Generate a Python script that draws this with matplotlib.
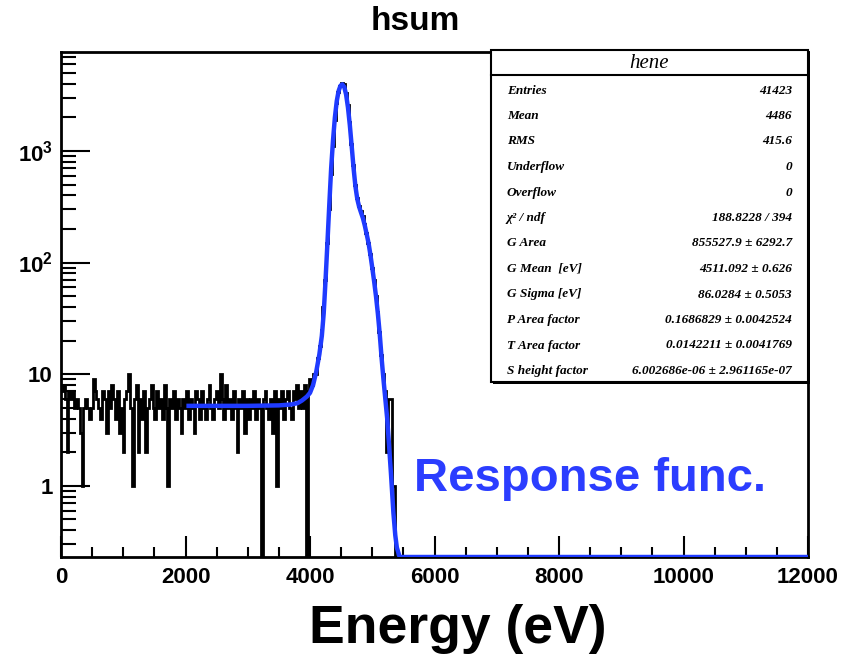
import numpy as np
import matplotlib
matplotlib.use("Agg")
import matplotlib.pyplot as plt
from matplotlib.patches import Rectangle
from matplotlib.ticker import FixedLocator, NullFormatter

plt.rcParams['font.family'] = 'Liberation Sans'
plt.rcParams['font.weight'] = 'bold'
plt.rcParams['mathtext.fontset'] = 'custom'
plt.rcParams['mathtext.rm'] = 'Liberation Sans:bold'
plt.rcParams['mathtext.bf'] = 'Liberation Sans:bold'

# [1] histogram: 30 eV bins, 0 - 12000 eV (counts, bins 0..178)
bin_width = 30
n_bins = 400
counts_low = [
    7, 8, 6, 2, 7, 6, 7, 5, 6, 5,
    3, 1, 5, 6, 5, 4, 5, 9, 7, 6,
    5, 4, 7, 6, 3, 7, 5, 8, 6, 4,
    7, 3, 5, 2, 6, 7, 10, 5, 1, 6,
    8, 2, 6, 4, 7, 2, 5, 6, 8, 5,
    4, 7, 5, 6, 4, 8, 5, 1, 6, 5,
    7, 4, 6, 5, 3, 6, 5, 7, 4, 6,
    5, 3, 7, 6, 4, 7, 5, 4, 6, 8,
    5, 4, 6, 7, 5, 10, 6, 4, 8, 5,
    6, 4, 7, 5, 2, 6, 5, 7, 3, 6,
    4, 6, 5, 7, 4, 6, 5, 0, 6, 7,
    5, 4, 6, 3, 7, 1, 6, 5, 7, 4,
    6, 7, 5, 4, 7, 6, 8, 5, 7, 5,
    8, 0, 7, 9, 8, 10, 10, 14, 18, 25,
    40, 70, 150, 300, 620, 1100, 1900, 2700, 3400, 3850,
    4050, 3950, 3300, 2600, 1800, 1150, 750, 500, 380, 320,
    290, 260, 220, 185, 150, 120, 90, 70, 50, 36,
    24, 15, 10, 7, 2, 6, 6, 1, 1,
]

# [2] fit curve (response function)
fit_e = [2050, 2500, 3000, 3500, 3700, 3800, 3870, 3950, 4000, 4050,
         4100, 4150, 4190, 4220, 4250, 4280, 4310, 4340, 4370, 4400,
         4430, 4460, 4490, 4520, 4550, 4580, 4610, 4640, 4670, 4700,
         4730, 4760, 4790, 4820, 4850, 4880, 4910, 4940, 4970, 5000,
         5030, 5060, 5090, 5120, 5150, 5180, 5210, 5240, 5270, 5300,
         5340, 5370, 5395, 5440, 12000]
fit_y = [5.2, 5.2, 5.2, 5.25, 5.35, 5.5, 5.8, 6.3, 6.8, 8,
         10.5, 15, 22, 35, 70, 150, 330, 700, 1250, 2000,
         2800, 3450, 3850, 3950, 3750, 3200, 2450, 1700, 1100, 700,
         480, 370, 315, 280, 250, 215, 180, 150, 118, 90,
         68, 50, 35, 23, 14, 9, 6, 4, 2.3, 1.3,
         0.57, 0.36, 0.28, 0.2, 0.2]

stats_labels = ["Entries", "Mean", "RMS", "Underflow", "Overflow", "\u03c7\u00b2 / ndf",
                "G Area", "G Mean  [eV]", "G Sigma [eV]", "P Area factor",
                "T Area factor", "S height factor"]
stats_values = ["41423", "4486", "415.6", "0", "0", "188.8228 / 394",
                "855527.9 \u00b1 6292.7", "4511.092 \u00b1 0.626", "86.0284 \u00b1 0.5053",
                "0.1686829 \u00b1 0.0042524", "0.0142211 \u00b1 0.0041769",
                "6.002686e-06 \u00b1 2.961165e-07"]

y_min, y_max = 0.23, 7700
x_min, x_max = 0, 12000

counts = np.zeros(n_bins)
counts[:len(counts_low)] = counts_low
edges = np.arange(n_bins + 1) * bin_width

W, H = 844, 658
fig = plt.figure(figsize=(W / 100, H / 100), dpi=100)
ax = fig.add_axes([61 / W, 1 - 557 / H, 747 / W, 505 / H])

ax.stairs(np.clip(counts, y_min, None), edges, color='black', lw=2.0, baseline=None, zorder=2)
ax.plot(fit_e, np.clip(fit_y, y_min, None), color='#1f3bff', lw=3.2, zorder=3,
        solid_joinstyle='round')

ax.set_yscale('log')
ax.set_xlim(x_min, x_max)
ax.set_ylim(y_min, y_max)

ax.set_xticks(np.arange(0, 12001, 2000))
ax.set_xticklabels([str(v) for v in range(0, 12001, 2000)])
ax.xaxis.set_minor_locator(FixedLocator(np.arange(0, 12001, 500)))
ax.set_yticks([1, 10, 100, 1000])
ax.set_yticklabels(['1', '10', r'$\mathbf{10^{2}}$', r'$\mathbf{10^{3}}$'])
minor_y = [m * 10.0 ** d for d in range(-1, 4) for m in range(2, 10)]
ax.yaxis.set_minor_locator(FixedLocator([v for v in minor_y if y_min < v < y_max]))
ax.yaxis.set_minor_formatter(NullFormatter())

ax.tick_params(which='both', direction='in', top=False, right=False, width=1.5,
               labelsize=16, colors='black')
ax.tick_params(axis='x', which='major', length=15, pad=7)
ax.tick_params(axis='x', which='minor', length=7)
ax.tick_params(axis='y', which='major', length=21, pad=6)
ax.tick_params(axis='y', which='minor', length=11)
for lab in ax.get_xticklabels() + ax.get_yticklabels():
    lab.set_fontweight('bold')
for sp in ax.spines.values():
    sp.set_linewidth(2)

# title and axis label
fig.text(415 / W, 1 - 22 / H, "hsum", ha='center', va='center', fontsize=24, fontweight='bold')
fig.text(458 / W, 1 - 629 / H, "Energy (eV)", ha='center', va='center', fontsize=38.5,
         fontweight='bold')
fig.text(414 / W, 1 - 491 / H, "Response func.", ha='left', va='baseline', fontsize=34,
         fontweight='bold', color='#2b3dff')

# stats box
bx0, bx1, by0, by1 = 491, 808, 50, 382
fig.patches.append(Rectangle(((bx0 + 2) / W, 1 - (by1 + 2) / H), (bx1 - bx0) / W,
                             (by1 - by0) / H, transform=fig.transFigure,
                             facecolor='black', edgecolor='none', zorder=5))
fig.patches.append(Rectangle((bx0 / W, 1 - by1 / H), (bx1 - bx0) / W, (by1 - by0) / H,
                             transform=fig.transFigure, facecolor='white',
                             edgecolor='black', lw=1.5, zorder=6))
fig.lines.append(plt.Line2D([bx0 / W, bx1 / W], [1 - 75 / H, 1 - 75 / H],
                            transform=fig.transFigure, color='black', lw=1.5, zorder=7))
fig.text((bx0 + bx1) / 2 / W, 1 - 64 / H, "hene", ha='center', va='center', fontsize=15,
         family='Liberation Serif', style='italic', weight='normal', zorder=8)
row_y0, row_dy = 90.5, 25.5
for i, (lab, val) in enumerate(zip(stats_labels, stats_values)):
    yy = 1 - (row_y0 + i * row_dy) / H
    fig.text(507 / W, yy, lab, ha='left', va='center', fontsize=9.5,
             family='Liberation Serif', style='italic', weight='bold', zorder=8)
    fig.text(792 / W, yy, val, ha='right', va='center', fontsize=9.5,
             family='Liberation Serif', style='italic', weight='bold', zorder=8)

fig.savefig("out.png", dpi=100)
